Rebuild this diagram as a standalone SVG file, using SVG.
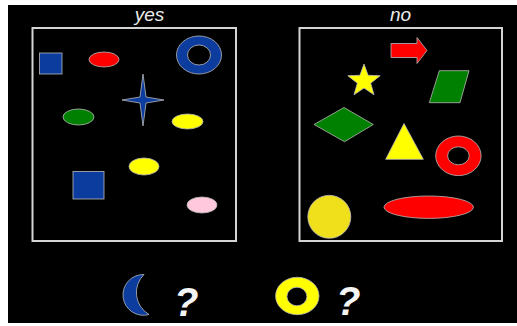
<svg xmlns="http://www.w3.org/2000/svg" width="517" height="326" viewBox="0 0 517 326">
<style>
.frame{fill:none;stroke:#d4d4d4;stroke-width:2}
.lbl{font-family:"Liberation Sans",Arial,sans-serif;font-style:italic;font-size:19px;fill:#ececec;text-anchor:middle}
.q{font-family:"Liberation Sans",Arial,sans-serif;font-style:italic;font-weight:bold;font-size:40px;fill:#f4f4f4}
.sh{stroke:#b8b8b8;stroke-width:0.8}
.blue{fill:#0b3c9e}
.red{fill:#ff0000}
.green{fill:#008000}
.yellow{fill:#ffff00}
</style>
<rect x="0" y="0" width="517" height="326" fill="#ffffff"/>
<rect x="8" y="5" width="509" height="318" fill="#000000"/>

<g id="panel-yes">
<rect class="frame" x="32.5" y="28" width="203.5" height="213"/>
<text class="lbl" x="149.5" y="21">yes</text>
</g>
<g id="panel-no">
<rect class="frame" x="299.5" y="28" width="202.5" height="213"/>
<text class="lbl" x="400.5" y="21">no</text>
</g>

<g id="yes-square-small"><rect class="sh blue" x="39.5" y="53" width="22.5" height="21"/></g>
<g id="yes-ellipse-red"><ellipse class="sh red" cx="104" cy="59.5" rx="15" ry="7.5"/></g>
<g id="yes-ring-blue"><path class="sh blue" fill-rule="evenodd" d="M176.5,55a22.5,19 0 1,0 45,0a22.5,19 0 1,0 -45,0ZM187.5,55a11.5,10 0 1,0 23,0a11.5,10 0 1,0 -23,0Z"/></g>
<g id="yes-star-blue"><path class="sh blue" d="M143,74 L146,97 L164,100 L146,103 L143,126 L140,103 L122,100 L140,97 Z"/></g>
<g id="yes-ellipse-green"><ellipse class="sh green" cx="78.5" cy="117" rx="15.5" ry="8"/></g>
<g id="yes-ellipse-yellow-1"><ellipse class="sh yellow" cx="187.5" cy="121.5" rx="15.5" ry="7.5"/></g>
<g id="yes-ellipse-yellow-2"><ellipse class="sh yellow" cx="144" cy="166.5" rx="15" ry="8.5"/></g>
<g id="yes-square-large"><rect class="sh blue" x="73" y="171.5" width="31" height="27.5"/></g>
<g id="yes-ellipse-pink"><ellipse class="sh" fill="#ffc8dc" cx="202" cy="205" rx="15" ry="8"/></g>

<g id="no-arrow-red"><path class="sh red" d="M391,43.5 L417,43.5 L417,37.5 Q422,44 427,50.5 Q422,57 417,63.5 L417,57.5 L391,57.5 Z"/></g>
<g id="no-star-yellow"><path class="sh yellow" d="M364,64 L368.1,75.3 L380.2,75.7 L370.7,83.2 L374,94.8 L364,88 L354,94.8 L357.3,83.2 L347.8,75.7 L359.9,75.3 Z"/></g>
<g id="no-parallelogram-green"><path class="sh green" d="M439.3,70.7 L469,70.7 L460,102.7 L429.3,102.7 Z"/></g>
<g id="no-diamond-green"><path class="sh green" d="M314,124.5 L344,107.5 L373.3,124.5 L344.5,141.7 Z"/></g>
<g id="no-triangle-yellow"><path class="sh yellow" d="M404,123.5 L423.3,159.3 L385.7,159.3 Z"/></g>
<g id="no-ring-red"><path class="sh red" fill-rule="evenodd" d="M435.7,155.8a22.7,19.8 0 1,0 45.4,0a22.7,19.8 0 1,0 -45.4,0ZM447.6,155.8a10.8,9 0 1,0 21.6,0a10.8,9 0 1,0 -21.6,0Z"/></g>
<g id="no-circle-yellow"><circle class="sh" fill="#f0e01c" cx="329.3" cy="216.8" r="21.5"/></g>
<g id="no-ellipse-red"><ellipse class="sh red" cx="428.7" cy="207.2" rx="44.7" ry="11.2"/></g>

<g id="test-crescent-blue"><path class="sh blue" d="M144,274.5 A20.4,20.4 0 1,0 149,314.5 A25.3,25.3 0 0,1 144,274.5 Z"/></g>
<text class="q" x="174" y="316">?</text>
<g id="test-ring-yellow"><path class="sh yellow" fill-rule="evenodd" d="M275.6,296a21.7,18.7 0 1,0 43.4,0a21.7,18.7 0 1,0 -43.4,0ZM286.9,296.5a10,9.3 0 1,0 20,0a10,9.3 0 1,0 -20,0Z"/></g>
<text class="q" x="336" y="315">?</text>
</svg>
